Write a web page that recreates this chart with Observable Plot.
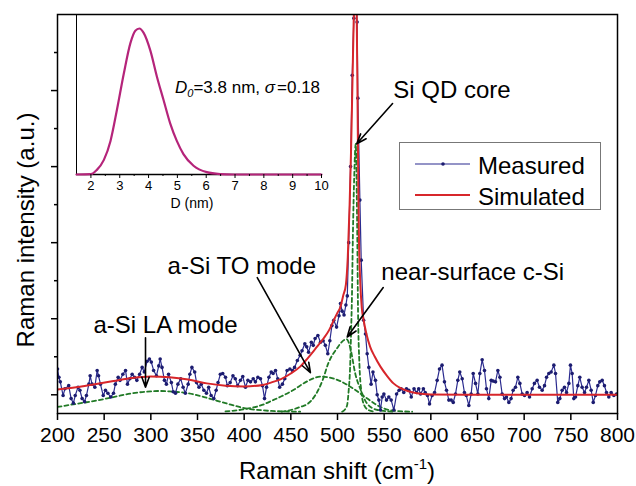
<!DOCTYPE html>
<html><head><meta charset="utf-8">
<script src="https://cdn.jsdelivr.net/npm/d3@7"></script>
<script src="https://cdn.jsdelivr.net/npm/@observablehq/plot@0.6"></script>
<style>
body{margin:0;background:#fff}
#wrap{position:relative;width:636px;height:486px}
#wrap svg{position:absolute;left:0;top:0}
</style>
</head><body><div id="wrap"></div>
<script>
// ---------- data ----------
const xTicks = [200,250,300,350,400,450,500,550,600,650,700,750,800];
const yMajorTicks = [0,1,2,3,4];
const yMinorTicks = [0.5,1.5,2.5,3.5,4.5];
const insetTicks = [2,3,4,5,6,7,8,9,10];
const insetMinorTicks = [2.5,3.5,4.5,5.5,6.5,7.5,8.5,9.5];

// measured spectrum [Raman shift, intensity]
const measured = [[200,0.34],[201.5,0.23],[203,0.17],[206,-0.01],[208,0.08],[212,0.12],[214.6,-0.05],[217,-0.11],[219,-0.01],[222,0.1],[224,0.06],[226.4,-0.05],[229,-0.09],[231,-0.01],[233.6,0.14],[235,0.25],[237,0.14],[240,0.1],[242.5,0.32],[244,0.25],[246,0.14],[249,-0.01],[251.4,0.06],[254,0.02],[257,-0.03],[260,0.02],[262,0.14],[265,0.23],[267,0.19],[270,0.27],[272.9,0.32],[275,0.14],[277.5,0.21],[280,0.27],[282.5,0.23],[285,0.19],[288,0.27],[290.7,0.36],[293,0.3],[296,0.44],[298.5,0.47],[300.5,0.43],[303,0.32],[306,0.25],[308.5,0.38],[310,0.47],[312,0.36],[314.6,0.19],[316.7,0.14],[319,0.27],[322,0.16],[324,0.04],[326.4,0.02],[329,0.14],[332,0.21],[334.6,0.1],[337,0.02],[340,0.14],[341.8,0.27],[344,0.36],[347,0.3],[349,0.16],[351.6,0.1],[354,0.14],[356.8,0.06],[359.6,0.02],[362,0.1],[364.6,-0.01],[367.5,-0.05],[370,0.06],[372,0.16],[374.5,0.27],[377,0.28],[380,0.23],[382,0.12],[385,0.16],[388,0.25],[390.5,0.21],[393,0.12],[396,0.19],[398.5,0.24],[401.4,0.1],[404,0.19],[406.8,0.17],[409.7,0.21],[412,0.17],[414.7,0.23],[417.5,0.21],[419.6,0.12],[421.8,-0.05],[424,0.1],[426.5,0.23],[429,0.3],[431,0.28],[433.6,0.32],[436,0.21],[438,0.1],[441,0.14],[443.5,0.21],[446,0.32],[449,0.34],[451.7,0.32],[454,0.36],[457,0.45],[460,0.52],[462,0.58],[465,0.67],[467,0.63],[469,0.56],[472,0.69],[474,0.65],[476,0.74],[479,0.78],[481.8,0.69],[484.6,0.71],[487,0.65],[489.6,0.54],[491.8,0.71],[494,0.91],[496,0.98],[499,0.89],[501.6,1.04],[503.2,1.2],[505,1.1],[507,1.05],[509,1.18],[510.5,1.3],[512,2.0],[514,3.0],[515.8,4.2],[517.5,4.95],[519.3,5.4],[521,4.9],[521.8,3.9],[524,2.56],[525.4,1.77],[528,0.98],[530,0.8],[531.8,0.54],[533.6,0.36],[536,0.14],[538,0.3],[540.7,0.19],[542.5,0.0],[544.3,-0.07],[546,-0.2],[547.9,-0.03],[549.7,0.01],[552.5,-0.07],[555,-0.03],[557.5,-0.07],[560.4,-0.2],[563.3,0.01],[566,0.06],[568.2,0.08],[571,0.03],[573.9,0.08],[576.4,0.06],[579,-0.03],[582,0.08],[584.7,0.03],[587,0.08],[589,0.01],[592,0.08],[594,0.03],[596.4,-0.01],[598.6,-0.12],[601.4,-0.01],[604,0.03],[606.8,0.19],[609.3,0.34],[612,0.39],[614.6,0.17],[616.8,0.06],[619.3,-0.07],[621.8,-0.07],[624,-0.1],[626.4,0.01],[628.9,0.19],[631,0.3],[633.6,0.21],[636,0.03],[638,-0.01],[640.7,-0.14],[643.2,0.01],[645.4,0.28],[647.9,0.15],[650.4,0.01],[652.5,0.28],[655,0.46],[657.5,0.32],[659.6,0.08],[662.1,-0.05],[664.7,0.19],[666.8,0.18],[669.3,0.17],[671.8,0.32],[674,0.23],[676.4,0.01],[679,-0.05],[681,-0.03],[683.6,-0.1],[686,-0.05],[688.2,0.06],[690.7,0.1],[693.2,0.23],[695.4,0.15],[697.9,0.01],[700.4,-0.01],[703.2,0.03],[705.7,-0.03],[708.6,0.08],[711,0.15],[713.9,0.19],[716.4,0.1],[719.3,0.06],[721.8,0.12],[724,0.23],[726.4,0.28],[728.9,0.3],[731.8,0.39],[733.6,0.28],[736,-0.1],[738.2,-0.05],[740.7,0.06],[743.2,0.1],[745.4,0.03],[747.9,0.15],[749.6,0.39],[751.4,0.28],[753.2,-0.05],[755,-0.03],[757.5,0.12],[759.6,0.23],[762.1,0.1],[764.7,0.03],[766.8,0.1],[769.3,0.19],[771.8,0.06],[774,-0.1],[776.4,-0.01],[778.9,0.12],[781,0.17],[783.6,0.19],[786,0.12],[788.2,0.03],[790.7,-0.03],[793.2,0.03],[796.1,-0.01],[799,0.01]];

// simulated spectrum
const simulated = [[200,0.07],[220,0.1],[240,0.14],[260,0.18],[280,0.22],[300,0.24],[320,0.23],[340,0.2],[360,0.15],[380,0.12],[400,0.11],[420,0.13],[431,0.17],[440,0.21],[450,0.28],[460,0.37],[468,0.48],[476,0.6],[485,0.74],[491,0.85],[496,0.98],[500,1.08],[503,1.15],[506,1.3],[509,1.45],[511,1.8],[513,2.5],[514.5,3.2],[516,4.1],[517.5,5.0],[519,5.6],[520.5,5.1],[521.8,3.4],[522.8,2.2],[524.5,1.45],[526,1.15],[528,0.98],[531,0.8],[535,0.63],[540,0.5],[546,0.37],[553,0.25],[560,0.15],[567,0.09],[575,0.05],[585,0.02],[600,0.005],[650,0],[700,0],[750,0],[800,0]];

// fitted components (green dashed)
const laMode = [[200,-0.16],[220,-0.12],[240,-0.08],[260,-0.03],[280,0.02],[300,0.045],[310,0.05],[320,0.045],[340,0.02],[357,-0.03],[380,-0.11],[400,-0.175],[420,-0.205],[440,-0.218],[460,-0.222]];
const toMode = [[380,-0.218],[400,-0.19],[420,-0.13],[431,-0.07],[440,-0.02],[455,0.08],[465,0.16],[475,0.22],[483,0.24],[490,0.23],[503,0.18],[517,0.08],[532,-0.05],[546,-0.16],[560,-0.21],[580,-0.222]];
const surfaceMode = [[440,-0.222],[450,-0.2],[460,-0.16],[468,-0.12],[476,-0.01],[484,0.19],[490,0.41],[500,0.62],[505,0.7],[510,0.73],[514,0.6],[519,0.28],[525,0.06],[532,-0.12],[543,-0.2],[560,-0.222]];
const coreMode = [[505,-0.222],[510,-0.15],[512,0.06],[513.5,0.36],[514.5,0.8],[515.5,1.3],[516.5,2.1],[518,2.9],[519.5,3.3],[521,2.3],[522,1.1],[523.5,0.4],[525.5,0.05],[528,-0.12],[533,-0.2],[540,-0.222]];
const components = [laMode, toMode, surfaceMode, coreMode];

// annotations: label position and arrow (data coordinates)
const annotations = [
  {label: "Si QD core", tx: 559.7, ty: 4.0, x1: 559, y1: 3.83, x2: 520.6, y2: 3.3},
  {label: "a-Si TO mode", tx: 317.9, ty: 1.69, x1: 414, y1: 1.54, x2: 471, y2: 0.29},
  {label: "near-surface c-Si", tx: 547, ty: 1.61, x1: 549, y1: 1.41, x2: 510.4, y2: 0.76},
  {label: "a-Si LA mode", tx: 238.6, ty: 0.92, x1: 294.3, y1: 0.75, x2: 294.3, y2: 0.1}
];

// inset: size distribution [D (nm), normalised]
const sizeDist = [[1.5,0],[2.0,0.002],[2.2,0.03],[2.45,0.1],[2.68,0.23],[2.9,0.44],[3.14,0.69],[3.37,0.9],[3.54,0.985],[3.68,1.0],[3.83,0.97],[4.06,0.85],[4.29,0.67],[4.52,0.51],[4.75,0.35],[4.98,0.23],[5.21,0.14],[5.56,0.06],[6.02,0.016],[6.48,0.003],[6.94,0],[8,0],[10,0]];

const legendItems = [{label: "Measured", color: "#2b2b8f", dot: true}, {label: "Simulated", color: "#d7262b", dot: false}];

// ---------- styles ----------
const FONT = "'Liberation Sans', Arial, Helvetica, sans-serif";
const BLUE = "#2b2b8f", BLUE_DOT = "#1c1c70", RED = "#d7262b", GREEN = "#217a26", MAGENTA = "#b5247a";
const X = d => d[0], Y = d => d[1];

const main = Plot.plot({
  width: 636, height: 486,
  marginLeft: 57, marginRight: 19, marginTop: 14, marginBottom: 73,
  style: {fontFamily: FONT, fontSize: "21px", background: "transparent", color: "black", overflow: "visible"},
  x: {domain: [200, 800]},
  y: {domain: [-0.246, 5.0]},
  marks: [
    ...components.map(c => Plot.line(c, {x: X, y: Y, stroke: GREEN, strokeWidth: 1.8, strokeDasharray: "4,3", curve: "monotone-x", clip: true})),
    Plot.line(measured, {x: X, y: Y, stroke: BLUE, strokeWidth: 1.2, clip: true}),
    Plot.dot(measured, {x: X, y: Y, r: 1.8, fill: BLUE_DOT, clip: true}),
    Plot.line(simulated, {x: X, y: Y, stroke: RED, strokeWidth: 2, curve: "monotone-x", clip: true}),
    Plot.arrow(annotations, {x1: "x1", y1: "y1", x2: "x2", y2: "y2", stroke: "black", strokeWidth: 1.6, headLength: 10, headAngle: 40}),
    Plot.text(annotations, {x: "tx", y: "ty", text: "label", textAnchor: "start", fontSize: 24, fill: "black"}),
    Plot.frame({stroke: "black", strokeWidth: 1.5}),
    Plot.axisX({ticks: xTicks, tickSize: 7, tickPadding: 7, label: null, strokeWidth: 1.5}),
    Plot.axisY({ticks: yMajorTicks, tickSize: 6, tickFormat: () => "", label: null, strokeWidth: 1.5}),
    Plot.axisY({ticks: yMinorTicks, tickSize: 3, tickFormat: () => "", label: null, strokeWidth: 1.5})
  ]
});

const inset = Plot.plot({
  width: 636, height: 486,
  marginLeft: 76, marginRight: 315, marginTop: 14, marginBottom: 312,
  style: {fontFamily: FONT, fontSize: "13px", background: "transparent", color: "black", overflow: "visible", pointerEvents: "none"},
  x: {domain: [1.5, 10]},
  y: {domain: [0, 1.096], axis: null},
  marks: [
    Plot.ruleX([1.5], {stroke: "black", strokeWidth: 1}),
    Plot.ruleY([0], {stroke: "black", strokeWidth: 1.5}),
    Plot.line(sizeDist, {x: X, y: Y, stroke: MAGENTA, strokeWidth: 2.2, curve: "monotone-x"}),
    Plot.axisX({ticks: insetTicks, tickSize: 4, tickPadding: 2, label: null}),
    Plot.axisX({ticks: insetMinorTicks, tickSize: 2, tickFormat: () => "", label: null})
  ]
});

const wrap = document.getElementById("wrap");
wrap.appendChild(main);
wrap.appendChild(inset);

// axis titles
const ms = d3.select(main);
ms.append("text").attr("transform", "translate(26,230) rotate(-90)")
  .attr("text-anchor", "middle").attr("dy", "0.35em")
  .style("font-family", FONT).style("font-size", "24px").text("Raman intensity (a.u.)");
const xt = ms.append("text").attr("x", 337).attr("y", 479).attr("text-anchor", "middle")
  .style("font-family", FONT).style("font-size", "24px");
xt.append("tspan").text("Raman shift (cm");
xt.append("tspan").attr("dy", -10).style("font-size", "15px").text("-1");
xt.append("tspan").attr("dy", 10).text(")");

// legend
const lg = ms.append("g");
lg.append("rect").attr("x", 399.5).attr("y", 142.5).attr("width", 201).attr("height", 67)
  .attr("fill", "white").attr("stroke", "#777").attr("stroke-width", 1);
legendItems.forEach((it, i) => {
  const y = 164 + i * 31;
  lg.append("line").attr("x1", 415).attr("x2", 470).attr("y1", y).attr("y2", y)
    .attr("stroke", it.color).attr("stroke-width", it.dot ? 1.2 : 2);
  if (it.dot) lg.append("circle").attr("cx", 443).attr("cy", y).attr("r", 1.8).attr("fill", BLUE_DOT);
  lg.append("text").attr("x", 478).attr("y", y + 10).attr("text-anchor", "start")
    .style("font-family", FONT).style("font-size", "24px").text(it.label);
});

// inset texts
const is = d3.select(inset);
const t = is.append("text").attr("x", 175).attr("y", 93).attr("text-anchor", "start")
  .style("font-family", FONT).style("font-size", "17px");
t.append("tspan").style("font-style", "italic").text("D");
t.append("tspan").style("font-style", "italic").style("font-size", "11px").attr("dy", 4).text("0");
t.append("tspan").attr("dy", -4).text("=3.8 nm, ");
t.append("tspan").style("font-style", "italic").text("σ");
t.append("tspan").attr("dx", 2).text("=0.18");
is.append("text").attr("x", 192).attr("y", 208).attr("text-anchor", "middle")
  .style("font-family", FONT).style("font-size", "14px").text("D (nm)");
</script>
</body></html>
